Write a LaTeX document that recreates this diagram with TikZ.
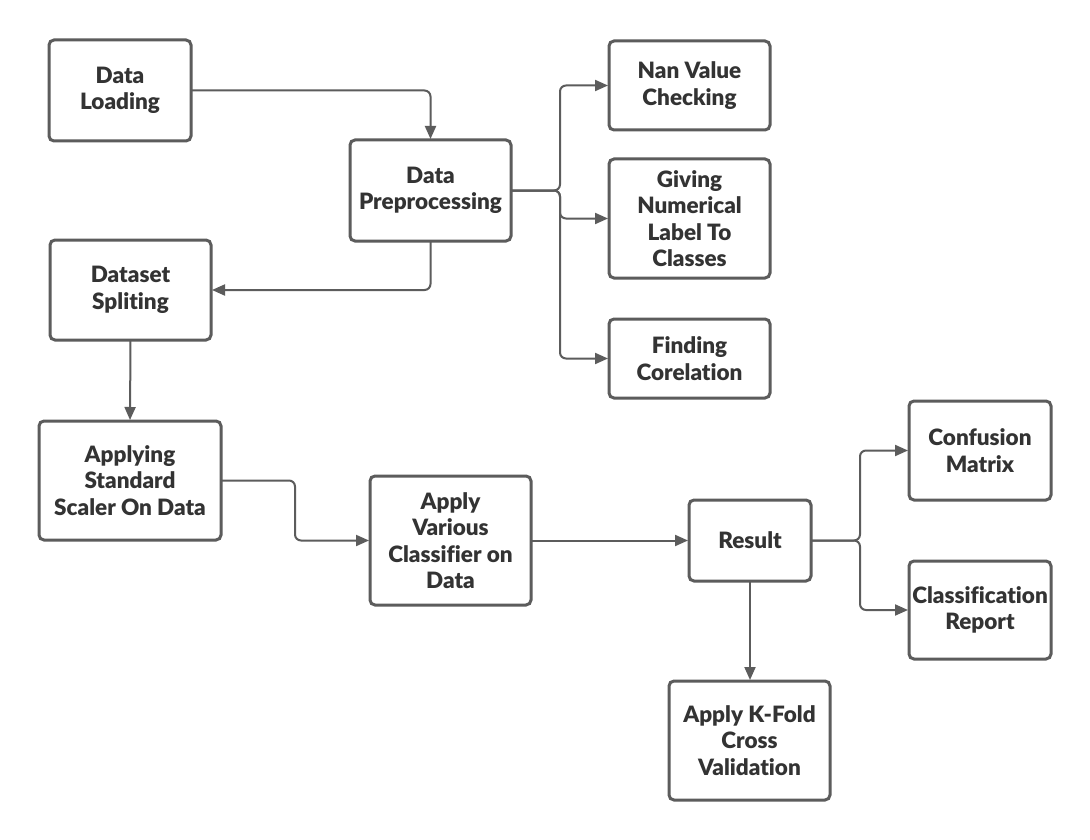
\documentclass[tikz,border=0pt]{standalone}
\usepackage{fontspec}
\setmainfont{Lato}[Ligatures=NoCommon]
\newfontfamily\heavyfont{Lato Black}[Ligatures=NoCommon]
\usetikzlibrary{arrows.meta}
\definecolor{edge}{HTML}{5C5C5C}
\definecolor{txt}{HTML}{333333}
\begin{document}
\begin{tikzpicture}[x=1pt,y=-1pt,
  box/.style={draw=edge, line width=3pt, rounded corners=5pt, fill=white,
    align=center, text=txt, font=\heavyfont\fontsize{22.5}{26.5}\selectfont,
    inner sep=0pt, outer sep=0pt},
  conn/.style={draw=edge, line width=2pt, rounded corners=6pt,
    -{Triangle[length=13pt,width=11pt]}, shorten >=1pt}]
\useasboundingbox (0,0) rectangle (1090,840);
\fill[white] (0,0) rectangle (1090,840);
\node[box, minimum width=142pt, minimum height=101pt] (load) at (120,90.5) {Data\\Loading};
\node[box, minimum width=161pt, minimum height=101pt] (prep) at (430.5,190.5) {Data\\Preprocessing};
\node[box, minimum width=161pt, minimum height=89pt] (nan) at (689.5,85.5) {Nan Value\\Checking};
\node[box, minimum width=161pt, minimum height=119pt] (give) at (689.5,218.5) {Giving\\Numerical\\Label To\\Classes};
\node[box, minimum width=161pt, minimum height=79pt] (find) at (689.5,358.5) {Finding\\Corelation};
\node[box, minimum width=161pt, minimum height=100pt] (split) at (130.5,290) {Dataset\\Spliting};
\node[box, minimum width=182pt, minimum height=119pt] (scale) at (130,480.5) {Applying\\Standard\\Scaler On Data};
\node[box, minimum width=161pt, minimum height=129pt] (clf) at (450.5,540.5) {Apply\\Various\\Classifier on\\Data};
\node[box, minimum width=122pt, minimum height=81pt] (res) at (750,540.5) {Result};
\node[box, minimum width=142pt, minimum height=99pt] (conf) at (980,450.5) {Confusion\\Matrix};
\node[box, minimum width=142pt, minimum height=98pt] (crep) at (980,610) {Classification\\Report};
\node[box, minimum width=161pt, minimum height=119pt] (kfold) at (749.5,740.5) {Apply K-Fold\\Cross\\Validation};

\coordinate (j1) at (560,190.5);
\coordinate (j2) at (860,540.5);

\draw[conn] (load.east) -| (prep.north);
\draw[conn] (prep.south) |- (split.east);
\draw[conn] (prep.east) -- (j1) |- (nan.west);
\draw[conn] (prep.east) -- (j1) |- (give.west);
\draw[conn] (prep.east) -- (j1) |- (find.west);
\draw[conn] (split.south) -- (scale.north);
\draw[conn] (scale.east) -- (295,480.5) |- (clf.west);
\draw[conn] (clf.east) -- (res.west);
\draw[conn] (res.east) -- (j2) |- (conf.west);
\draw[conn] (res.east) -- (j2) |- (crep.west);
\draw[conn] (res.south) -- (res.south |- kfold.north);
\end{tikzpicture}
\end{document}
